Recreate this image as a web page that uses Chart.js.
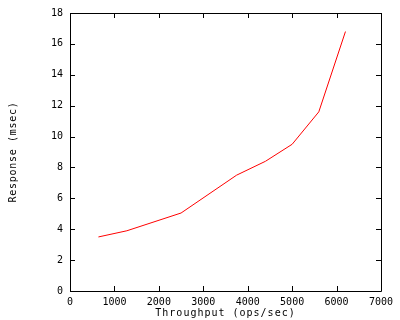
<!DOCTYPE html>
<html lang="en">
<head>
  <meta charset="UTF-8" />
  <title>Response vs Throughput</title>
  <script src="https://cdn.jsdelivr.net/npm/chart.js"></script>
  <style>
    body { margin: 0; padding: 0; background: #fff; }
    #chart { display: block; }
  </style>
</head>
<body>
  <canvas id="chart" width="400" height="320"></canvas>

  <script>
    // Data
    const throughput = [640, 1280, 2500, 3750, 4400, 5000, 5600, 6200];
    const response = [3.5, 3.9, 5.05, 7.5, 8.4, 9.5, 11.6, 16.8];

    const xTicks = [0, 1000, 2000, 3000, 4000, 5000, 6000, 7000];
    const yTicks = [0, 2, 4, 6, 8, 10, 12, 14, 16, 18];

    const font = { family: '"DejaVu Sans Mono", monospace', size: 10 };

    // gnuplot style frame: box on all four sides, ticks pointing inward
    const framePlugin = {
      id: 'frame',
      afterDraw(chart) {
        const { ctx, chartArea: a, scales } = chart;
        const tl = 5;
        ctx.save();
        ctx.strokeStyle = '#000';
        ctx.lineWidth = 1;
        ctx.beginPath();
        ctx.rect(a.left + 0.5, a.top + 0.5, a.right - a.left, a.bottom - a.top);
        xTicks.forEach(v => {
          const px = Math.round(scales.x.getPixelForValue(v)) + 0.5;
          ctx.moveTo(px, a.bottom);
          ctx.lineTo(px, a.bottom - tl);
          ctx.moveTo(px, a.top);
          ctx.lineTo(px, a.top + tl);
        });
        yTicks.forEach(v => {
          const py = Math.round(scales.y.getPixelForValue(v)) + 0.5;
          ctx.moveTo(a.left, py);
          ctx.lineTo(a.left + tl, py);
          ctx.moveTo(a.right, py);
          ctx.lineTo(a.right - tl, py);
        });
        ctx.stroke();

        // axis titles (gnuplot's font is a bit wider, so spread the letters)
        ctx.fillStyle = '#000';
        ctx.font = '10px "DejaVu Sans Mono", monospace';
        ctx.textAlign = 'center';
        ctx.textBaseline = 'middle';
        ctx.letterSpacing = '1px';
        ctx.fillText('Throughput (ops/sec)', (a.left + a.right) / 2, 313);
        ctx.letterSpacing = '0.7px';
        ctx.translate(13, (a.top + a.bottom) / 2);
        ctx.rotate(-Math.PI / 2);
        ctx.fillText('Response (msec)', 0, 0);
        ctx.restore();
      }
    };

    new Chart(document.getElementById('chart'), {
      type: 'line',
      data: {
        datasets: [{
          data: throughput.map((x, i) => ({ x, y: response[i] })),
          borderColor: '#ff0000',
          borderWidth: 1,
          pointRadius: 0,
          tension: 0,
          fill: false
        }]
      },
      options: {
        responsive: false,
        animation: false,
        events: [],
        layout: { padding: { top: 5, right: 19, left: 0, bottom: 0 } },
        plugins: {
          legend: { display: false },
          tooltip: { enabled: false }
        },
        scales: {
          x: {
            type: 'linear',
            min: 0,
            max: 7000,
            afterFit: s => { s.height = 29; },
            afterBuildTicks: s => { s.ticks = xTicks.map(value => ({ value })); },
            grid: { display: false, tickLength: 0 },
            border: { display: false },
            ticks: {
              font,
              color: '#000',
              padding: 5,
              maxRotation: 0,
              autoSkip: false,
              callback: v => String(v)
            }
          },
          y: {
            type: 'linear',
            min: 0,
            max: 18,
            afterFit: s => { s.width = 70; },
            afterBuildTicks: s => { s.ticks = yTicks.map(value => ({ value })); },
            grid: { display: false, tickLength: 0 },
            border: { display: false },
            ticks: {
              font,
              color: '#000',
              padding: 7,
              autoSkip: false,
              callback: v => String(v)
            }
          }
        }
      },
      plugins: [framePlugin]
    });
  </script>
</body>
</html>
